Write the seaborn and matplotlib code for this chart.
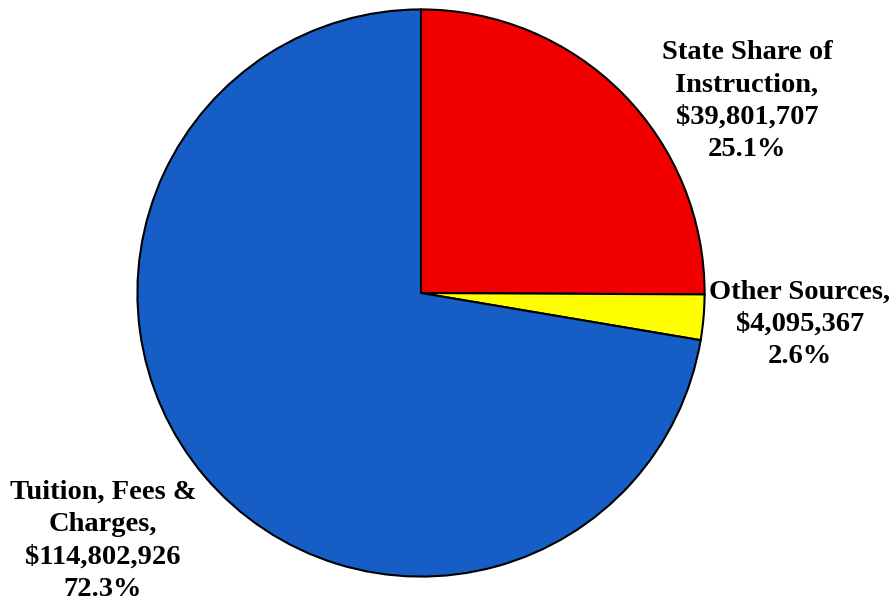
import matplotlib
matplotlib.use("Agg")
import matplotlib.pyplot as plt
import seaborn as sns

categories = ["State Share of\nInstruction,", "Other Sources,", "Tuition, Fees &\nCharges,"]
amounts = [39801707, 4095367, 114802926]
percents = ["25.1%", "2.6%", "72.3%"]
colors = ["#f20000", "#ffff00", "#165ec6"]

sns.set_theme(style="white")
plt.rcParams['font.family'] = ['Liberation Serif', 'DejaVu Serif']

W, H = 894, 604
fig = plt.figure(figsize=(W / 100, H / 100), dpi=100)
fig.patch.set_facecolor("white")

cx, cy, r = 421, 293, 285
ax = fig.add_axes([(cx - r) / W, (H - cy - r) / H, 2 * r / W, 2 * r / H])
ax.pie(amounts, colors=colors, startangle=90, counterclock=False, radius=1,
       wedgeprops=dict(edgecolor="black", linewidth=1.5))
ax.set_xlim(-1.005, 1.005)
ax.set_ylim(-1.005, 1.005)
ax.set_aspect("equal")
ax.axis("off")

label_pos = [(747, 101), (800, 324), (103, 541)]
for cat, amt, pct, (px, py) in zip(categories, amounts, percents, label_pos):
    txt = f"{cat}\n${amt:,}\n{pct}"
    fig.text(px / W, 1 - py / H, txt, ha="center", va="center", fontsize=20.5,
             fontweight="bold", color="black", linespacing=1.38)

fig.savefig("out.png", dpi=100)
